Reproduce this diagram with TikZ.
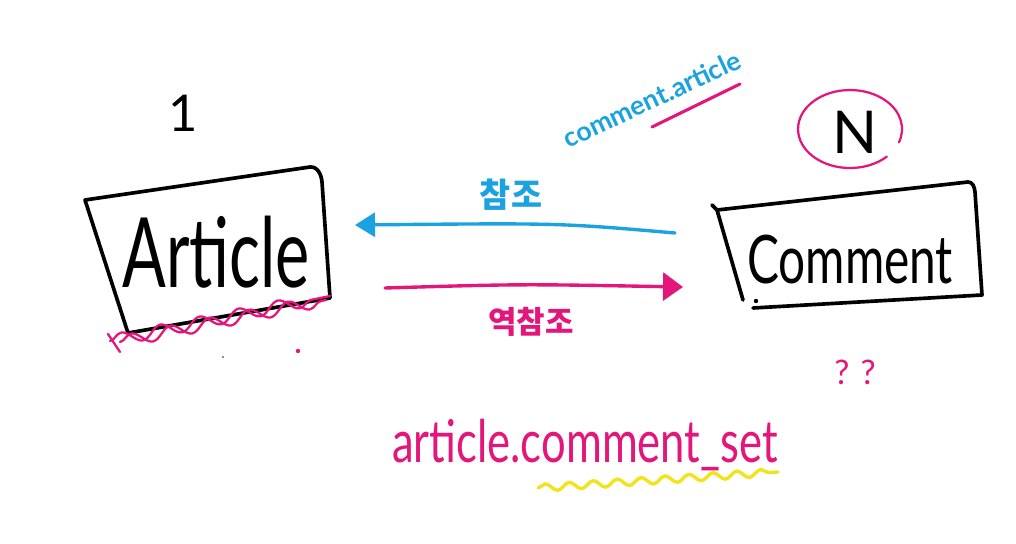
\documentclass[tikz,border=0pt]{standalone}
\usepackage{fontspec}
\setmainfont{Lato}
\newfontfamily\kor{Noto Sans CJK KR}
\usetikzlibrary{arrows.meta,decorations.pathmorphing}
\definecolor{inkblue}{HTML}{1AA3E0}
\definecolor{inkpink}{HTML}{E3167B}
\definecolor{inkyellow}{HTML}{F2E41C}
\tikzset{
  boxline/.style={draw=black, line width=2.6pt, line join=round, line cap=round},
  bluearrow/.style={draw=inkblue, line width=2.4pt, line cap=round,
    -{Triangle[length=5mm,width=6mm,fill=inkblue]}},
  pinkarrow/.style={draw=inkpink, line width=2.4pt, line cap=round,
    -{Triangle[length=5mm,width=7mm,fill=inkpink]}},
  pinkwave/.style={draw=inkpink, line width=1.6pt, line cap=round,
    decorate, decoration={snake, amplitude=1.5mm, segment length=10mm}},
  yellowwave/.style={draw=inkyellow, line width=2.4pt, line cap=round,
    decorate, decoration={snake, amplitude=0.9mm, segment length=6mm}},
  bigtext/.style={inner sep=0pt, font=\fontsize{46}{50}\selectfont},
}
\begin{document}
\begin{tikzpicture}[x=0.025cm,y=-0.025cm]
\useasboundingbox (0,0) rectangle (1016,544);
\fill[white] (0,0) rectangle (1016,544);

% "1" cardinality
\node[inner sep=0pt, font=\fontsize{36}{38}\selectfont] (one) at (183,113) {1};

% Article box
\draw[boxline] (85,200) -- (310,167) to[out=5,in=95] (322,182) -- (330,298) -- (128,333) -- cycle;
\node[bigtext, yscale=1.5] (article) at (216,252) {Article};
\draw[pinkwave] (110,341) -- (330,296);
\draw[pinkwave] (120,342) -- (326,300);
\draw[inkpink, line width=1.6pt, line cap=round] (108,334) -- (120,352);
\fill[inkpink] (298,351) circle (2.2);
\fill[black!60] (223,357) circle (1.2);

% comment.article label
\node[inner sep=0pt, rotate=25, text=inkblue, font=\fontsize{19}{21}\selectfont\bfseries] (cart) at (652,99) {comment.article};
\coordinate (ul1) at (652,127);
\coordinate (ul2) at (740,84);
\draw[inkpink, line width=2.2pt, line cap=round] (ul1) -- (ul2);

% N with circle
\node[inner sep=0pt, font=\fontsize{42}{44}\selectfont] (N) at (855,132) {N};
\draw[inkpink, line width=1.6pt, line cap=round] (886.8,156.6) arc[start angle=45, end angle=380, x radius=52, y radius=39];

% Comment box
\draw[boxline] (712,205) -- (717,210) -- (743,300);
\draw[boxline] (717,210) -- (968,182) to[out=0,in=95] (975,192) -- (982,295) -- (753,308);
\fill (756,301) circle (2.2);
\node[inner sep=0pt, yscale=1.4, font=\fontsize{34}{38}\selectfont] (comment) at (850,260) {Comment};

% arrows
\coordinate (bstart) at (675,233);
\coordinate (bend) at (355,225);
\draw[bluearrow] (bstart) .. controls (560,223) .. (bend);
\node[inner sep=0pt, text=inkblue, font=\kor\fontsize{24}{26}\selectfont\bfseries] (ref) at (511,195) {참조};

\coordinate (pstart) at (385,288);
\coordinate (pend) at (683,287);
\draw[pinkarrow] (pstart) .. controls (520,284) .. (pend);
\node[inner sep=0pt, text=inkpink, font=\kor\fontsize{22}{24}\selectfont\bfseries] (rref) at (531,322) {역참조};

% question marks
\node[inner sep=0pt, text=inkpink, font=\fontsize{24}{26}\selectfont] (qq) at (855,372) {?\,\,?};

% article.comment_set
\node[inner sep=0pt, yscale=1.35, text=inkpink, font=\fontsize{31}{34}\selectfont] (aset) at (585,445) {article.comment\_set};
\draw[yellowwave] (538,488) -- (778,472);
\end{tikzpicture}
\end{document}
